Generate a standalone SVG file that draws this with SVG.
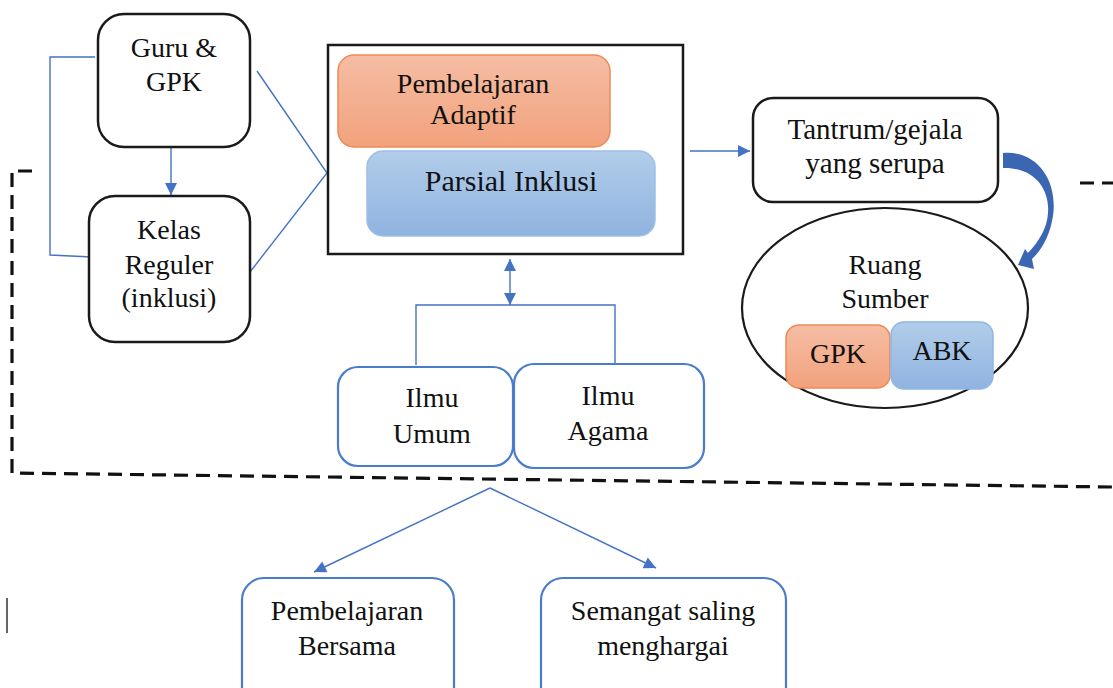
<svg xmlns="http://www.w3.org/2000/svg" width="1113" height="688" viewBox="0 0 1113 688" font-family="Liberation Serif, Times New Roman, serif">
<defs>
<linearGradient id="og" x1="0" y1="0" x2="0" y2="1"><stop offset="0" stop-color="#f5bda4"/><stop offset="1" stop-color="#f2a27c"/></linearGradient>
<linearGradient id="bg" x1="0" y1="0" x2="0" y2="1"><stop offset="0" stop-color="#b2cdea"/><stop offset="1" stop-color="#8fb3e0"/></linearGradient>
<marker id="ah" viewBox="0 0 10 10" refX="10" refY="5" markerUnits="userSpaceOnUse" markerWidth="13" markerHeight="12" orient="auto-start-reverse"><path d="M0,0 L10,5 L0,10 Z" fill="#4472c4"/></marker>
<style>
text{font-family:'Liberation Serif','Times New Roman',serif}
.t{font-size:28px;fill:#111;text-anchor:middle}
.bk{fill:#fff;stroke:#1a1a1a;stroke-width:2.5}
.bl{fill:#fff;stroke:#4a7ccc;stroke-width:2.2}
.c{fill:none;stroke:#4472c4;stroke-width:1.4}
.d{fill:none;stroke:#111;stroke-width:3.2;stroke-dasharray:14 8}
</style>
</defs>
<rect width="1113" height="688" fill="#fff"/>

<g id="dashed-boundary">
<path class="d" d="M32,171 L12,171 L12,473 L1113,487"/>
<path class="d" d="M1080,183 L1113,183"/>
</g>

<g id="connectors">
<path class="c" d="M95,57 L50,57 L50,255 L92,257"/>
<path class="c" d="M257,71 L327,173 L250,272"/>
<path class="c" d="M171,147 L171,195" marker-end="url(#ah)"/>
<path class="c" d="M690,151 L750,151" marker-end="url(#ah)"/>
<path class="c" d="M510,259 L510,305" marker-start="url(#ah)" marker-end="url(#ah)"/>
<path class="c" d="M416,365 L416,305 L615,305 L615,363"/>
<path class="c" d="M490,488 L314,572" marker-end="url(#ah)"/>
<path class="c" d="M490,488 L656,568" marker-end="url(#ah)"/>
<path d="M1003,153 C1038,150 1058,182 1053,216 C1050,235 1042,250 1032,259 L1034,269 L1018,265 L1025,249 L1028,253 C1040,240 1047,228 1048,213 C1050,188 1033,167 1003,168 Z" fill="#3b67b2"/>
</g>

<g id="guru-gpk">
<rect class="bk" x="98" y="14" width="152" height="133" rx="26"/>
<text class="t" x="174" y="57">Guru &amp;</text>
<text class="t" x="174" y="91">GPK</text>
</g>

<g id="kelas-reguler">
<rect class="bk" x="89" y="196" width="161" height="146" rx="26"/>
<text class="t" x="169" y="239">Kelas</text>
<text class="t" x="169" y="274">Reguler</text>
<text class="t" x="169" y="307">(inklusi)</text>
</g>

<g id="pembelajaran-container">
<rect x="328" y="45" width="355" height="209" fill="#fff" stroke="#1a1a1a" stroke-width="2.5"/>
</g>

<g id="pembelajaran-adaptif">
<rect x="338" y="55" width="272" height="92" rx="16" fill="url(#og)" stroke="#ed8a55" stroke-width="1.5"/>
<text class="t" x="473" y="93" font-size="27">Pembelajaran</text>
<text class="t" x="473" y="124" font-size="27">Adaptif</text>
</g>

<g id="parsial-inklusi">
<rect x="367" y="151" width="288" height="85" rx="16" fill="url(#bg)" stroke="#9dc0e6" stroke-width="1.5"/>
<text class="t" x="511" y="191" style="font-size:30px">Parsial Inklusi</text>
</g>

<g id="tantrum">
<rect class="bk" x="753" y="98" width="245" height="104" rx="20"/>
<text class="t" x="875" y="139" style="font-size:29px">Tantrum/gejala</text>
<text class="t" x="875" y="173" style="font-size:29px">yang serupa</text>
</g>

<g id="ruang-sumber">
<ellipse cx="885" cy="308" rx="143" ry="100" fill="#fff" stroke="#1a1a1a" stroke-width="2.2"/>
<text class="t" x="885" y="274">Ruang</text>
<text class="t" x="885" y="308">Sumber</text>
</g>

<g id="gpk">
<rect x="786" y="325" width="104" height="63" rx="13" fill="url(#og)" stroke="#ed8a55" stroke-width="1.5"/>
<text class="t" x="838" y="363">GPK</text>
</g>

<g id="abk">
<rect x="891" y="322" width="102" height="67" rx="13" fill="url(#bg)" stroke="#8fb7e3" stroke-width="1.5"/>
<text class="t" x="942" y="360">ABK</text>
</g>

<g id="ilmu-umum">
<rect class="bl" x="338" y="367" width="175" height="99" rx="20"/>
<text class="t" x="432" y="407">Ilmu</text>
<text class="t" x="432" y="443">Umum</text>
</g>

<g id="ilmu-agama">
<rect class="bl" x="514" y="364" width="190" height="104" rx="20"/>
<text class="t" x="608" y="405">Ilmu</text>
<text class="t" x="608" y="440">Agama</text>
</g>

<g id="pembelajaran-bersama">
<rect class="bl" x="242" y="578" width="212" height="140" rx="22"/>
<text class="t" x="347" y="620">Pembelajaran</text>
<text class="t" x="347" y="655">Bersama</text>
</g>

<g id="semangat">
<rect class="bl" x="541" y="578" width="245" height="140" rx="22"/>
<text class="t" x="663" y="620">Semangat saling</text>
<text class="t" x="663" y="655">menghargai</text>
</g>

<line x1="7" y1="598" x2="7" y2="633" stroke="#333" stroke-width="1.5"/>
</svg>
